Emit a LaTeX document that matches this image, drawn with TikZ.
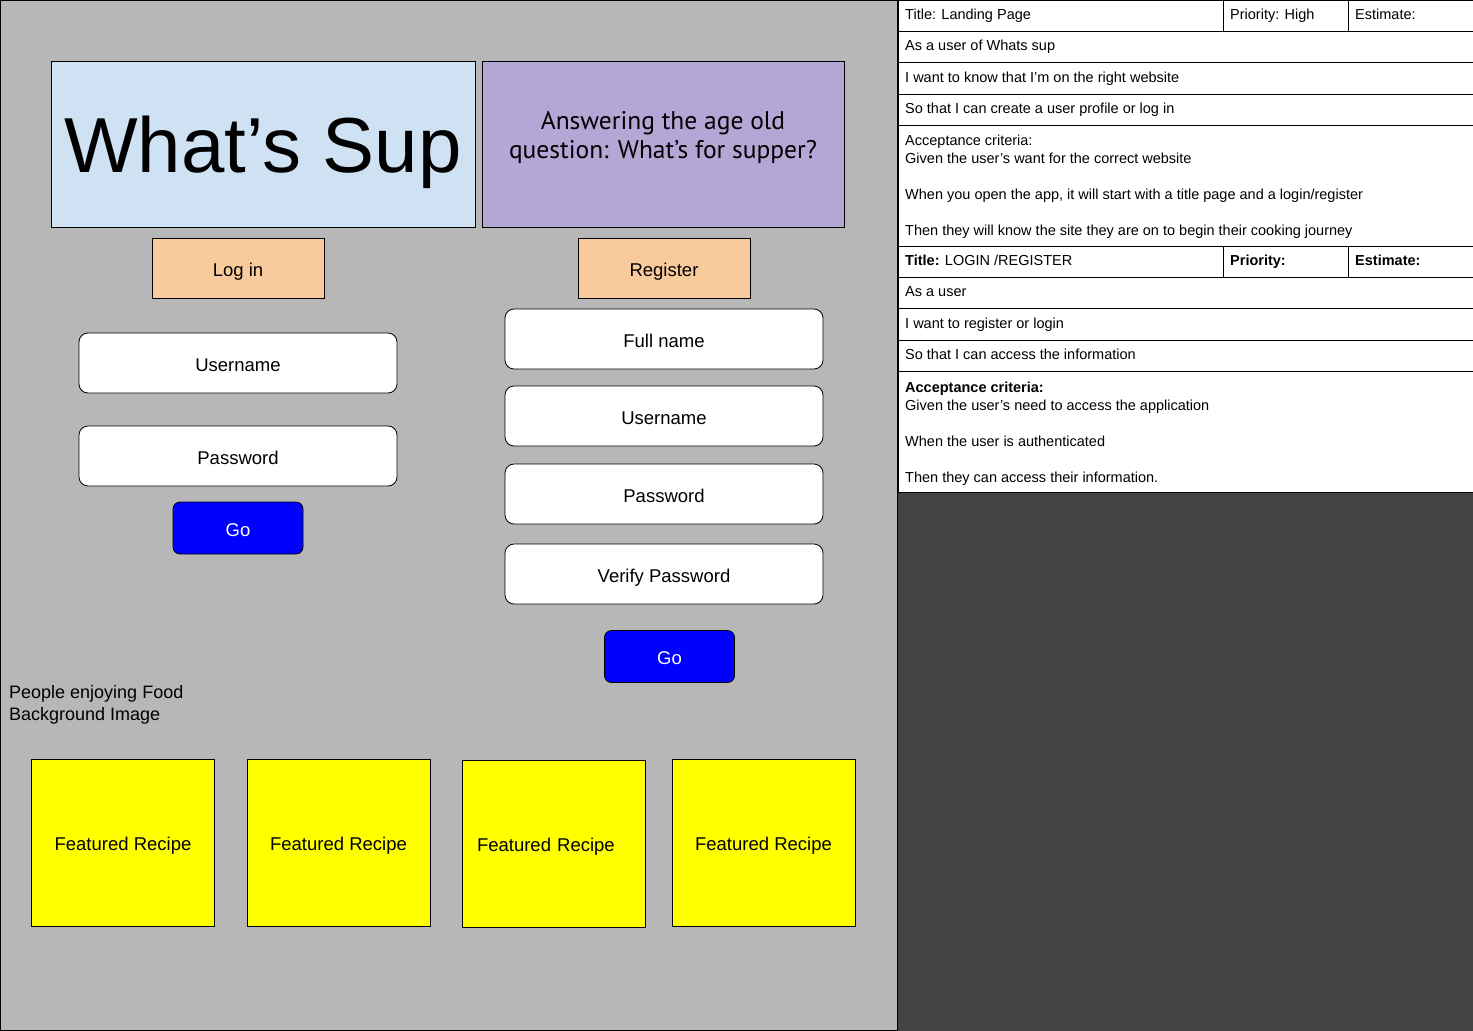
\documentclass[tikz,border=0pt]{standalone}
\usepackage{fontspec}
\setmainfont{Liberation Sans}
\newfontfamily\taglinefont{PT Sans}
\definecolor{panel}{HTML}{B7B7B7}
\definecolor{darkpane}{HTML}{434343}
\definecolor{titlefill}{HTML}{CFE2F3}
\definecolor{tagfill}{HTML}{B4A7D6}
\definecolor{tabfill}{HTML}{F9CB9C}
\definecolor{gofill}{HTML}{0000FF}
\definecolor{recipefill}{HTML}{FFFF00}
\tikzset{
	box/.style={draw, line width=0.8pt, inner sep=0pt, text height=16pt, text depth=0pt, font=\fontsize{18.5}{22}\selectfont},
	field/.style={box, fill=white, rounded corners=9pt, minimum width=318pt, minimum height=60pt},
	gobtn/.style={box, fill=gofill, text=white, rounded corners=7pt, minimum width=130pt, minimum height=52pt},
	tab/.style={box, fill=tabfill, minimum width=172pt, minimum height=60pt},
	recipe/.style={box, fill=recipefill, minimum width=183pt, minimum height=167pt},
	cell/.style={anchor=west, inner sep=0pt, text height=10.5pt, text depth=3pt, font=\fontsize{14.5}{18}\selectfont},
	criteria/.style={anchor=north west, inner sep=0pt, align=left, font=\fontsize{14.5}{18}\selectfont},
}
\begin{document}
\begin{tikzpicture}[x=1pt, y=-1pt]
		\useasboundingbox (0,0) rectangle (1473,1031);
		\draw[fill=panel, line width=1.2pt] (0,0) rectangle (898,1031);
		\fill[darkpane] (898,492) rectangle (1473,1031);
		\node[box, fill=titlefill, minimum width=424pt, minimum height=166pt, text height=56pt,
			font=\fontsize{78}{90}\selectfont] (title) at (263,144) {What’s Sup};
		\node[box, fill=tagfill, minimum width=362pt, minimum height=166pt] (tagbox) at (663,144) {};
		\node[align=center, inner sep=0pt, font=\taglinefont\fontsize{25.5}{29}\selectfont]
			(tagline) at (663,137) {Answering the age old\\question: What’s for supper?};
		\path
			  (238,268) node[tab]   (login)    {Log in}
			 +(426,0)   node[tab]   (register) {Register}
			++(0,95)    node[field] (loguser)  {Username}
			++(0,93)    node[field] (logpass)  {Password}
			++(0,72)    node[gobtn] (loggo)    {Go}
		;
		\path
			  (664,339)   node[field] (regname)   {Full name}
			++(0,77)      node[field] (reguser)   {Username}
			++(0,78)      node[field] (regpass)   {Password}
			++(0,80)      node[field] (regverify) {Verify Password}
			 +(5.5,82.5)  node[gobtn] (reggo)     {Go}
		;
		\node[criteria, font=\fontsize{18}{22}\selectfont] (bgnote) at (9,685)
			{People enjoying Food\\Background Image};
		\node[recipe] (recipe1) at (123,842.5)   {Featured Recipe};
		\node[recipe] (recipe2) at (338.5,842.5) {Featured Recipe};
		\node[recipe, text width=153pt, align=left] (recipe3) at (553.5,843.5) {Featured Recipe};
		\node[recipe] (recipe4) at (763.5,842.5) {Featured Recipe};
		% story table
		\draw[fill=white, line width=1pt] (898,0) rectangle (1473,492);
		\foreach \y in {31,62,94,125,246,277,308,340,371}
			\draw[line width=1pt] (898,\y) -- (1473,\y);
		\foreach \x in {1223,1348} {
			\draw[line width=1pt] (\x,0) -- (\x,31);
			\draw[line width=1pt] (\x,246) -- (\x,277);
		}
		\node[cell] (landtitle) at (905,16)  {Title: Landing Page};
		\node[cell] (landprio)  at (1230,16) {Priority: High};
		\node[cell] (landest)   at (1355,16) {Estimate:};
		\node[cell] (landas)    at (905,47)  {As a user of Whats sup};
		\node[cell] (landwant)  at (905,78.5)    {I want to know that I’m on the right website};
		\node[cell] (landso)    at (905,110) {So that I can create a user profile or log in};
		\node[criteria] (landcrit) at (905,135) {Acceptance criteria:\\Given the user’s want for the correct website\\[18pt]When you open the app, it will start with a title page and a login/register\\[18pt]Then they will know the site they are on to begin their cooking journey};
		\node[cell] (logtitle) at (905,262)  {\textbf{Title:} LOGIN /REGISTER};
		\node[cell] (logprio)  at (1230,262) {\textbf{Priority:}};
		\node[cell] (logest)   at (1355,262) {\textbf{Estimate:}};
		\node[cell] (logas)    at (905,293)  {As a user};
		\node[cell] (logwant)  at (905,324.5)    {I want to register or login};
		\node[cell] (logso)    at (905,356)  {So that I can access the information};
		\node[criteria] (logcrit) at (905,381.5) {\textbf{Acceptance criteria:}\\Given the user’s need to access the application\\[18pt]When the user is authenticated\\[18pt]Then they can access their information.};
	\end{tikzpicture}
\end{document}
